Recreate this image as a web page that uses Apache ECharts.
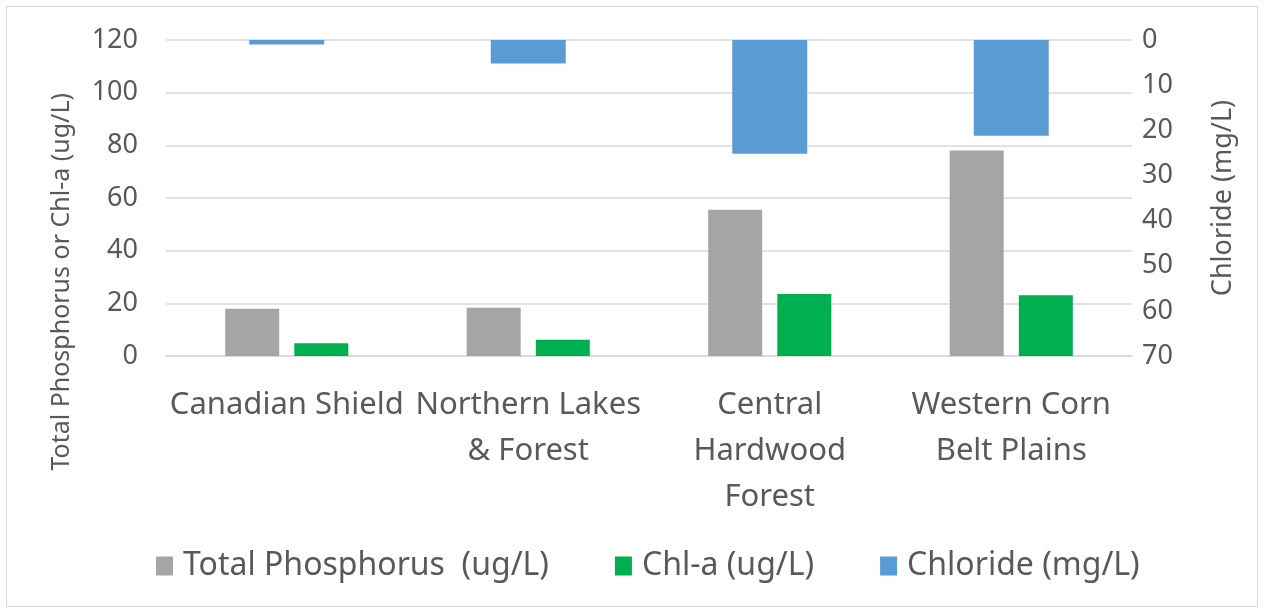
<!DOCTYPE html>
<html>
<head>
<meta charset="utf-8">
<script src="https://cdn.jsdelivr.net/npm/echarts@6/dist/echarts.min.js"></script>
<style>
  html, body { margin: 0; padding: 0; background: #fff; }
  #chart { position: absolute; left: 6px; top: 6px; width: 1250px; height: 599px; border: 1px solid #d9d9d9; }
</style>
</head>
<body>
<div id="chart"></div>
<script>
const categories = ['Canadian Shield', 'Northern Lakes\n& Forest', 'Central\nHardwood\nForest', 'Western Corn\nBelt Plains']
const totalPhosphorus = [17.9, 18.3, 55.5, 78.0]
const chlA = [4.8, 6.2, 23.5, 23.1]
const chloride = [1.0, 5.2, 25.2, 21.2]

const FONT = "'Noto Sans', sans-serif"
const TEXT = '#595959'

const chart = echarts.init(document.getElementById('chart'))

const option = {
  animation: false,
  textStyle: { fontFamily: FONT, color: TEXT },
  grid: { left: 159, right: 125, top: 33, bottom: 250 },
  legend: {
    top: 538,
    left: 144,
    itemWidth: 17,
    itemHeight: 19,
    itemGap: 66,
    icon: 'rect',
    textStyle: { fontFamily: FONT, fontSize: 32, color: TEXT, padding: [0, 0, 0, 5] },
    data: ['Total Phosphorus  (ug/L)', 'Chl-a (ug/L)', 'Chloride (mg/L)']
  },
  graphic: [
    {
      type: 'text',
      left: 42,
      top: 86,
      rotation: Math.PI / 2,
      style: { text: 'Total Phosphorus or Chl-a (ug/L)', font: "25px 'Noto Sans'", fill: TEXT }
    }
  ],
  xAxis: [
    {
      type: 'category',
      data: categories,
      axisTick: { show: false },
      axisLine: { lineStyle: { color: '#d9d9d9', width: 1.5 } },
      axisLabel: { fontFamily: FONT, fontSize: 31, color: TEXT, lineHeight: 46, margin: 26, interval: 0 }
    },
    {
      type: 'category',
      data: categories,
      show: false
    }
  ],
  yAxis: [
    {
      type: 'value',
      min: 0,
      max: 120,
      interval: 20,
      axisLine: { show: false },
      axisTick: { show: false },
      axisLabel: { fontFamily: FONT, fontSize: 27, color: TEXT, margin: 28 },
      splitLine: { lineStyle: { color: '#d9d9d9', width: 1.5 } }
    },
    {
      type: 'value',
      inverse: true,
      min: 0,
      max: 70,
      interval: 10,
      position: 'right',
      name: 'Chloride (mg/L)',
      nameLocation: 'middle',
      nameGap: 78,
      nameTextStyle: { fontFamily: FONT, fontSize: 27, color: TEXT },
      axisLine: { show: false },
      axisTick: { show: false },
      axisLabel: { fontFamily: FONT, fontSize: 27, color: TEXT, margin: 10 },
      splitLine: { show: false }
    }
  ],
  series: [
    {
      name: 'Total Phosphorus  (ug/L)',
      type: 'bar',
      xAxisIndex: 0,
      yAxisIndex: 0,
      data: totalPhosphorus,
      barWidth: 54,
      barGap: '28%',
      itemStyle: { color: '#a5a5a5' }
    },
    {
      name: 'Chl-a (ug/L)',
      type: 'bar',
      xAxisIndex: 0,
      yAxisIndex: 0,
      data: chlA,
      barWidth: 54,
      itemStyle: { color: '#00b050' }
    },
    {
      name: 'Chloride (mg/L)',
      type: 'bar',
      xAxisIndex: 1,
      yAxisIndex: 1,
      data: chloride,
      barWidth: 75,
      itemStyle: { color: '#5b9bd5' }
    }
  ]
}

chart.setOption(option)
</script>
</body>
</html>
